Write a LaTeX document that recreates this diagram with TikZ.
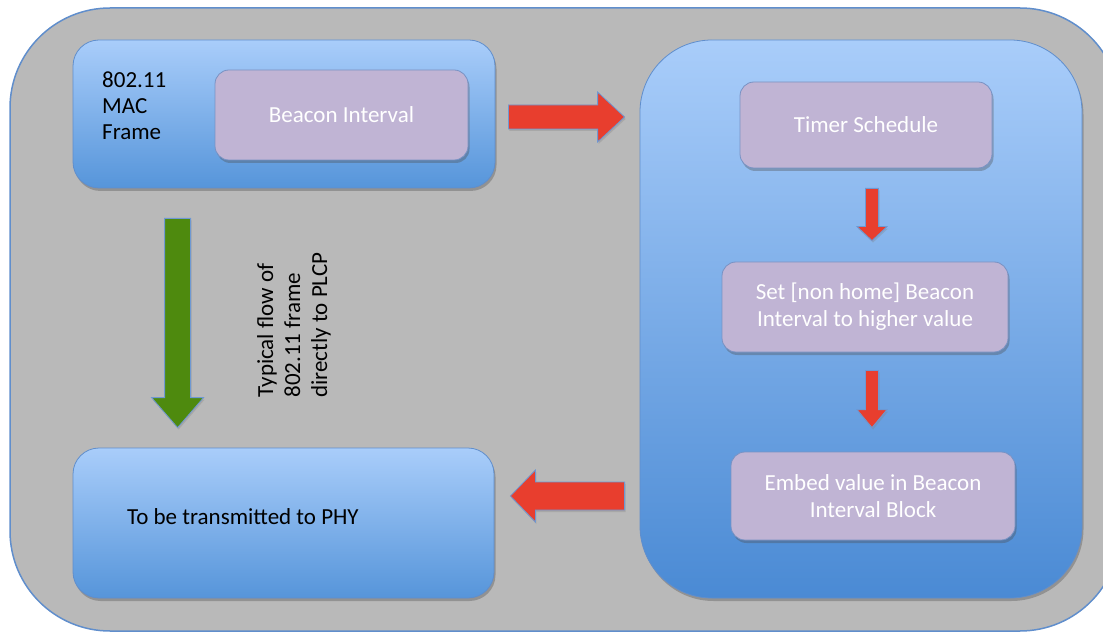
\documentclass[tikz,border=0pt]{standalone}
\usepackage{fontspec}
\setmainfont{Carlito}
\usetikzlibrary{calc,shadows}
\definecolor{bggray}{RGB}{185,185,185}
\definecolor{edgeblue}{RGB}{96,142,204}
\definecolor{bluetop}{RGB}{169,205,250}
\definecolor{bluebot}{RGB}{86,149,218}
\definecolor{bluebot2}{RGB}{74,138,212}
\definecolor{lav}{RGB}{192,180,212}
\definecolor{laved}{RGB}{120,146,196}
\definecolor{arrred}{RGB}{232,62,46}
\definecolor{arrgreen}{RGB}{78,138,14}
\definecolor{arredge}{RGB}{110,152,210}
\newcommand\blockarrow[6]{%
  \path ($(#3)!#6!(#2)$) coordinate (bah);
  \draw[#1] ($(#2)!#4!90:(#3)$) -- ($(bah)!#4!90:(#3)$) -- ($(bah)!#5!90:(#3)$) -- (#3)
    -- ($(bah)!#5!-90:(#3)$) -- ($(bah)!#4!-90:(#3)$) -- ($(#2)!#4!-90:(#3)$) -- cycle;}
\tikzset{
  shadowed/.style={drop shadow={shadow xshift=1.5pt, shadow yshift=-3pt, opacity=0.35, fill=black!70}},
  bluebox/.style={rectangle, draw=edgeblue, line width=0.8pt, top color=bluetop, bottom color=bluebot, shadowed, inner sep=0pt},
  lavbox/.style={rectangle, draw=laved, line width=0.8pt, fill=lav, rounded corners=14pt, shadowed, text=white, align=center, inner sep=0pt},
  redarrow/.style={fill=arrred, draw=arredge, line width=0.8pt, line join=miter, drop shadow={shadow xshift=1pt, shadow yshift=-2pt, opacity=0.3}},
  greenarrow/.style={fill=arrgreen, draw=arredge, line width=0.8pt, line join=miter, drop shadow={shadow xshift=1pt, shadow yshift=-2pt, opacity=0.3}},
  txt/.style={font=\fontsize{23}{27}\selectfont},
}
\begin{document}
\begin{tikzpicture}[x=1pt,y=-1pt,txt]
\useasboundingbox (0,0) rectangle (1103,636);
% outer panel
\draw[fill=bggray, draw=edgeblue, line width=1.5pt, rounded corners=100pt] (10,8) rectangle (1120,631);
% boxes
\node[bluebox, rounded corners=26pt, minimum width=422pt, minimum height=148pt] (mac) at (284,114) {};
\node[lavbox, minimum width=253pt, minimum height=90pt] (bi) at (341.5,115) {Beacon Interval};
\node[anchor=base west, align=left, inner sep=0pt, font=\fontsize{23}{26}\selectfont] (maclbl) at (102,140) {802.11\\MAC\\Frame};
\node[bluebox, rounded corners=72pt, minimum width=442pt, minimum height=558pt, bottom color=bluebot2] (proc) at (861,319) {};
\node[lavbox, minimum width=252pt, minimum height=86pt] (ts) at (866,125) {Timer Schedule};
\node[lavbox, minimum width=286pt, minimum height=90pt] (set) at (865,307) {Set [non home] Beacon\\Interval to higher value};
\node[lavbox, minimum width=284pt, minimum height=88pt] (emb) at (873,496) {Embed value in Beacon\\Interval Block};
\node[bluebox, rounded corners=26pt, minimum width=421pt, minimum height=150pt] (phy) at (283.5,523) {};
\node[anchor=west, inner sep=0pt] (phylbl) at (127,517) {To be transmitted to PHY};
\node[rotate=90, align=left, inner sep=0pt] (note) at (294,325) {Typical flow of\\802.11 frame\\directly to PLCP};
% arrows
\path ([shift={(13,3)}]mac.east) coordinate (r1s);
\path (r1s -| proc.west) ++(-15,0) coordinate (r1t);
\blockarrow{redarrow}{r1s}{r1t}{12pt}{25pt}{27pt}
\path (mac.south west) ++(105,30) coordinate (gs);
\path (gs |- phy.north) ++(0,-20) coordinate (gt);
\blockarrow{greenarrow}{gs}{gt}{13pt}{26pt}{30pt}
\path (ts.south) ++(6,20) coordinate (d1s);
\path (d1s |- set.north) ++(0,-21) coordinate (d1t);
\blockarrow{redarrow}{d1s}{d1t}{6.5pt}{15pt}{14pt}
\path (set.south) ++(7,18) coordinate (d2s);
\path (d2s |- emb.north) ++(0,-24) coordinate (d2t);
\blockarrow{redarrow}{d2s}{d2t}{6.5pt}{15pt}{18pt}
\path (proc.west) ++(-15,177) coordinate (l1s);
\path (l1s -| phy.east) ++(16,0) coordinate (l1t);
\blockarrow{redarrow}{l1s}{l1t}{14pt}{26pt}{25pt}
\end{tikzpicture}
\end{document}
